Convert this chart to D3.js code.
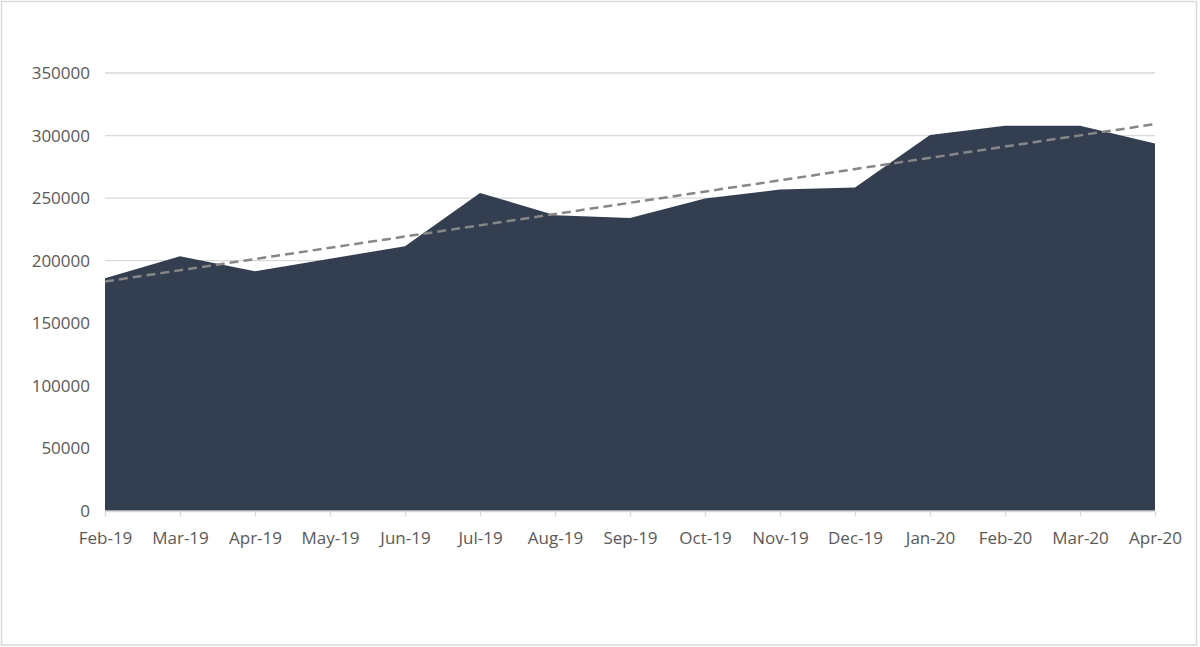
<!DOCTYPE html>
<html>
<head>
<meta charset="utf-8">
<script src="https://cdn.jsdelivr.net/npm/d3@7"></script>
<style>
  body { margin: 0; background: #fff; }
  .chart text { font-family: "Open Sans", sans-serif; font-size: 17px; fill: #595959; }
</style>
</head>
<body>
<div class="chart"></div>
<script>
// datos
const months = ['Feb-19', 'Mar-19', 'Apr-19', 'May-19', 'Jun-19', 'Jul-19', 'Aug-19', 'Sep-19',
  'Oct-19', 'Nov-19', 'Dec-19', 'Jan-20', 'Feb-20', 'Mar-20', 'Apr-20'];
const values = [185600, 203200, 191200, 201200, 211200, 253800, 236000, 233800,
  249300, 256500, 258100, 300000, 307500, 307500, 293300];
const yTicks = [0, 50000, 100000, 150000, 200000, 250000, 300000, 350000];

const w = 1200;
const h = 647;
const plotLeft = 105, plotRight = 1155, plotTop = 72.5, plotBottom = 510.5;

const xScale = d3.scalePoint().domain(months).range([plotLeft, plotRight]);
const yScale = d3.scaleLinear().domain([0, 350000]).range([plotBottom, plotTop]);

const svg = d3.select('.chart').append('svg')
  .attr('width', w)
  .attr('height', h);

/*marco*/
svg.append('rect')
  .attr('x', 1.5).attr('y', 1.5)
  .attr('width', w - 5).attr('height', h - 3.5)
  .attr('fill', '#fff')
  .attr('stroke', '#d9d9d9')
  .attr('stroke-width', 1.5);

/*lineas de grilla*/
const yAxis = d3.axisLeft(yScale)
  .tickValues(yTicks)
  .tickSize(-(plotRight - plotLeft))
  .tickPadding(15)
  .tickFormat(d3.format('d'));

svg.append('g')
  .attr('transform', `translate(${plotLeft},0)`)
  .call(yAxis)
  .call(g => g.select('.domain').remove())
  .call(g => g.selectAll('.tick line').attr('stroke', '#d9d9d9').attr('stroke-width', 1.3))
  .call(g => g.selectAll('.tick text').attr('dy', '0.35em'));

/*area*/
const area = d3.area()
  .x((d, i) => xScale(months[i]))
  .y0(yScale(0))
  .y1(d => yScale(d));

svg.append('path')
  .datum(values)
  .attr('d', area)
  .attr('fill', '#333f50');

/*eje x*/
const xAxis = d3.axisBottom(xScale)
  .tickSize(5)
  .tickPadding(15);

svg.append('g')
  .attr('transform', `translate(0,${plotBottom + 1})`)
  .call(xAxis)
  .call(g => g.select('.domain').attr('stroke', '#d9d9d9').attr('stroke-width', 1.3)
    .attr('d', `M${plotLeft},0H${plotRight}`))
  .call(g => g.selectAll('.tick line').attr('stroke', '#d9d9d9').attr('stroke-width', 1.3));

/*tendencia lineal (minimos cuadrados)*/
const n = values.length;
const xMean = (n - 1) / 2;
const yMean = d3.mean(values);
const slope = d3.sum(values, (v, i) => (i - xMean) * (v - yMean)) /
  d3.sum(values, (v, i) => (i - xMean) * (i - xMean));
const trend = [0, n - 1].map(i => [i, yMean + slope * (i - xMean)]);

svg.append('path')
  .datum(trend)
  .attr('d', d3.line()
    .x(d => xScale(months[d[0]]))
    .y(d => yScale(d[1])))
  .attr('fill', 'none')
  .attr('stroke', '#878787')
  .attr('stroke-width', 2.5)
  .attr('stroke-dasharray', '9,5');
</script>
</body>
</html>
